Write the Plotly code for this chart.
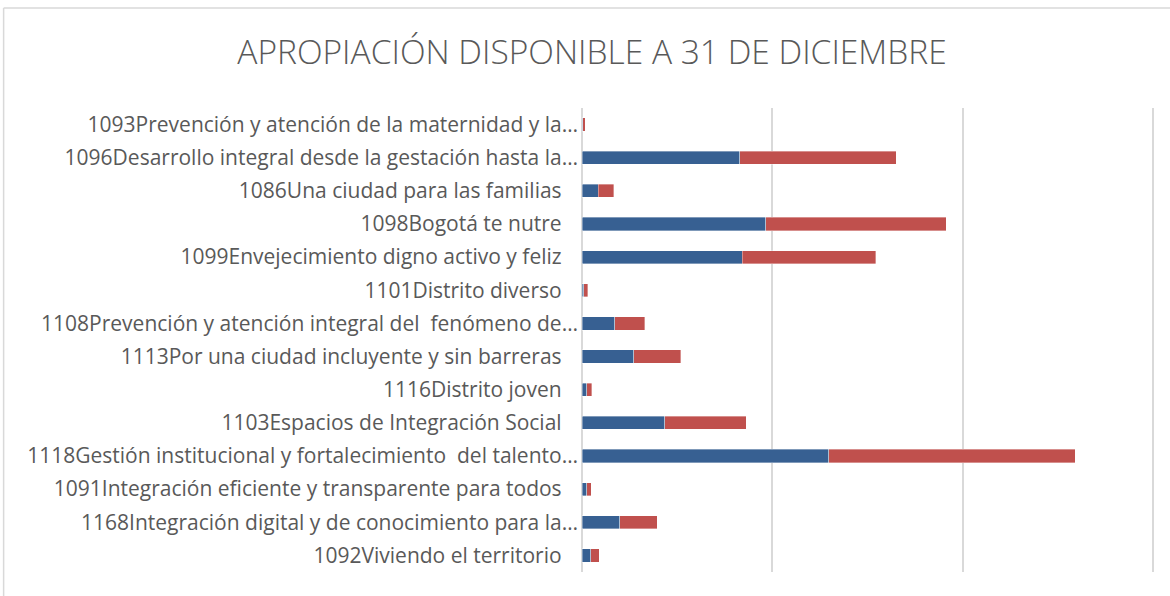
import plotly.graph_objects as go

# Categories as displayed (top to bottom)
categories = [
    "1093Prevención y atención de la maternidad y la…",
    "1096Desarrollo integral desde la gestación hasta la…",
    "1086Una ciudad para las familias ",
    "1098Bogotá te nutre ",
    "1099Envejecimiento digno activo y feliz ",
    "1101Distrito diverso ",
    "1108Prevención y atención integral del  fenómeno de…",
    "1113Por una ciudad incluyente y sin barreras ",
    "1116Distrito joven ",
    "1103Espacios de Integración Social ",
    "1118Gestión institucional y fortalecimiento  del talento…",
    "1091Integración eficiente y transparente para todos ",
    "1168Integración digital y de conocimiento para la…",
    "1092Viviendo el territorio ",
]

# Values in gridline units (each gridline = 1 unit)
serie_azul = [0.004, 0.829, 0.086, 0.965, 0.841, 0.008, 0.173, 0.271, 0.024, 0.435, 1.296, 0.024, 0.198, 0.047]
serie_roja = [0.012, 0.822, 0.082, 0.949, 0.702, 0.022, 0.157, 0.247, 0.027, 0.427, 1.294, 0.025, 0.196, 0.043]

x_ticks = [0, 1, 2, 3]

title_text = "APROPIACIÓN DISPONIBLE A 31 DE DICIEMBRE"

# Build display labels (trailing spaces kept visible)
tick_text = [c.rstrip(" ") + "\u00a0\u00a0\u00a0" if c.endswith(" ") else c for c in categories]

fig = go.Figure()
fig.add_trace(go.Bar(
    y=categories, x=serie_azul, orientation="h", name="Serie 1",
    marker=dict(color="#376092", line=dict(color="rgba(255,255,255,0.45)", width=0.8)),
))
fig.add_trace(go.Bar(
    y=categories, x=serie_roja, orientation="h", name="Serie 2",
    marker=dict(color="#C0504D", line=dict(color="rgba(255,255,255,0.45)", width=0.8)),
))

OFF = 0  # body margin removed via post_script
W, H = 1170, 596
XMAX = 3.02
unit_px = (1152.7 - 581.7) / 3.0
# desired screen positions of plot area
sx0, sy0, sy1 = 581.7, 108.3, 571.7
sx1 = sx0 + unit_px * XMAX
L = sx0 - OFF
R = W - (sx1 - OFF)
T = sy0 - OFF
B = H - (sy1 - OFF)
pw, ph = W - L - R, H - T - B

def px_to_paper_x(px):
    return (px - OFF - L) / pw

def px_to_paper_y(py):
    return (H - B - (py - OFF)) / ph

fig.update_layout(
    barmode="stack",
    bargap=0.6,
    width=W, height=H,
    margin=dict(l=L, r=R, t=T, b=B, autoexpand=False),
    paper_bgcolor="white",
    plot_bgcolor="white",
    showlegend=False,
    font=dict(family="Open Sans, Lato, sans-serif", color="#595959"),
    title=dict(
        text=title_text,
        x=(592 - OFF) / W, xanchor="center", xref="container",
        y=1 - (52.5 - OFF) / H, yanchor="middle", yref="container",
        font=dict(size=33.5, color="#595959", family="Open Sans", weight=300),
    ),
    xaxis=dict(
        range=[0, XMAX], tickvals=x_ticks, showticklabels=False,
        showgrid=True, gridcolor="#d9d9d9", gridwidth=1.5,
        zeroline=True, zerolinecolor="#d9d9d9", zerolinewidth=1.5,
        showline=False, fixedrange=True,
    ),
    yaxis=dict(
        categoryorder="array", categoryarray=categories, autorange="reversed",
        tickvals=categories, ticktext=tick_text,
        tickfont=dict(size=21, color="#595959", family="Open Sans"),
        showgrid=False, zeroline=False, showline=False, ticks="",
        ticklabelstandoff=3, fixedrange=True,
    ),
    shapes=[
        dict(type="line", xref="paper", yref="paper",
             x0=px_to_paper_x(3.5), x1=px_to_paper_x(1190),
             y0=px_to_paper_y(8.5), y1=px_to_paper_y(8.5),
             line=dict(color="#d9d9d9", width=1.5)),
        dict(type="line", xref="paper", yref="paper",
             x0=px_to_paper_x(3.5), x1=px_to_paper_x(3.5),
             y0=px_to_paper_y(8.5), y1=px_to_paper_y(620),
             line=dict(color="#d9d9d9", width=1.5)),
    ],
)

fig.write_html(
    "out.html",
    config={"displayModeBar": False},
    post_script="document.body.style.margin='0';document.body.style.padding='0';",
)
